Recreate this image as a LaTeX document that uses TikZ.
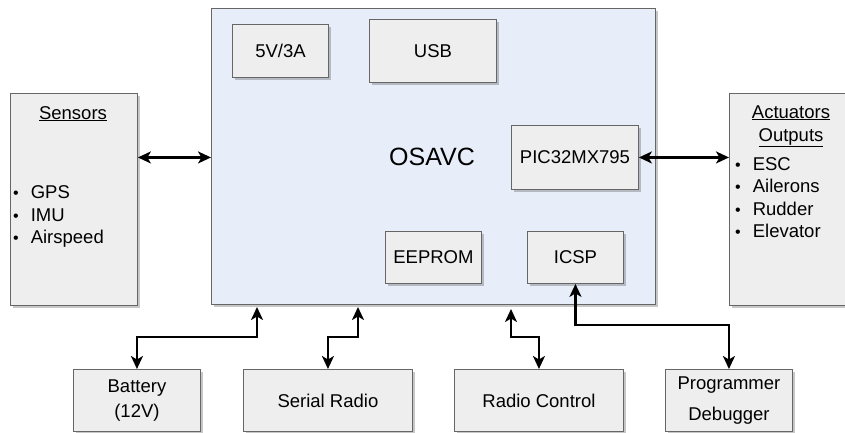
\documentclass[tikz,border=0pt]{standalone}
\usepackage{fontspec}
\setmainfont{Liberation Sans}
\usetikzlibrary{arrows.meta,shadows}
\definecolor{boxfill}{HTML}{EEEEEE}
\definecolor{boxline}{HTML}{666666}
\definecolor{mainfill}{HTML}{E7EEF9}
\newcommand\myfs{\fontsize{18.5}{22.5}\selectfont}
\newcommand\mybul{\raisebox{0pt}{\fontsize{16}{16}\selectfont •}}
\begin{document}
\begin{tikzpicture}[x=1pt,y=-1pt,
  shad/.style={drop shadow={shadow xshift=2.5pt,shadow yshift=-2.5pt,fill=black,opacity=0.22}},
  box/.style={draw=boxline, line width=0.9pt, fill=boxfill, shad, anchor=north west, inner sep=0pt, font=\myfs},
  mainbox/.style={draw=boxline, line width=0.9pt, fill=mainfill, shad, anchor=north west, inner sep=0pt},
  txt/.style={inner sep=0pt, font=\myfs},
  conn/.style={line width=2.2pt, {Stealth[length=13pt,width=12pt,inset=3.5pt]}-{Stealth[length=13pt,width=12pt,inset=3.5pt]}}]
\useasboundingbox (0,0) rectangle (845,433);
% main board
\node[mainbox, minimum width=444, minimum height=296] (osavc) at (211,8) {};
\node[txt, font=\fontsize{25}{30}\selectfont] (osavct) at (432,157) {OSAVC};
\node[box, minimum width=96, minimum height=53] (p5v) at (232,24) {5V/3A};
\node[box, minimum width=127, minimum height=63] (usb) at (369,19) {USB};
\node[box, minimum width=127, minimum height=64] (pic) at (511,125) {PIC32MX795};
\node[box, minimum width=96, minimum height=52] (eeprom) at (385,231) {EEPROM};
\node[box, minimum width=96, minimum height=52] (icsp) at (527,231) {ICSP};
% sensors
\node[box, minimum width=127, minimum height=212] (sens) at (10,93) {};
\node[txt, anchor=base] (senst) at (73,119) {\underline{Sensors}};
\node[txt, anchor=base west] (sensl) at (13,198.5) {\begin{tabular}[t]{@{}l@{\hspace{12pt}}l@{}}\mybul&GPS\\\mybul&IMU\\\mybul&Airspeed\end{tabular}};
% actuators
\node[box, minimum width=122, minimum height=212] (act) at (729,93) {};
\node[txt, anchor=base] (actt) at (791,118) {\underline{Actuators}};
\node[txt, anchor=base] (acto) at (791,141) {\underline{Outputs}};
\node[txt, anchor=base west] (actl) at (735,170) {\begin{tabular}[t]{@{}l@{\hspace{12pt}}l@{}}\mybul&ESC\\\mybul&Ailerons\\\mybul&Rudder\\\mybul&Elevator\end{tabular}};
% bottom boxes
\node[box, minimum width=127, minimum height=62, align=center, font=\fontsize{18.5}{25}\selectfont] (bat) at (73,369) {Battery\\(12V)};
\node[box, minimum width=169, minimum height=62] (serial) at (243,369) {Serial Radio};
\node[box, minimum width=169, minimum height=62] (radio) at (454,369) {Radio Control};
\node[box, minimum width=127, minimum height=62, align=center, font=\fontsize{18.5}{31}\selectfont] (prog) at (665,369) {Programmer\\Debugger};
% connectors
\draw[conn] (sens.east |- pic.west) -- (osavc.west |- pic.west);
\draw[conn] (pic.east) -- (act.west |- pic.east);
\coordinate (bt) at (257,307);
\coordinate (st) at (358,307);
\coordinate (rt) at (511,309);
\draw[conn] (bat.north) -- ++(0,-32) -| (bt);
\draw[conn] (serial.north) -- ++(0,-32) -| (st);
\draw[conn] (radio.north) -- ++(0,-32) -| (rt);
\draw[conn] (prog.north) -- ++(0,-44) -| (icsp.south);
\end{tikzpicture}
\end{document}
